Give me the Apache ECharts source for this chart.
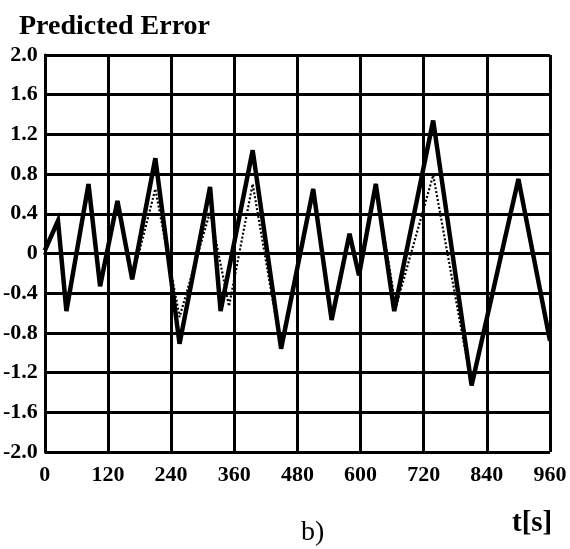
<!DOCTYPE html>
<html>
<head>
<meta charset="utf-8">
<script src="https://cdn.jsdelivr.net/npm/echarts@6/dist/echarts.min.js"></script>
<style>
html,body{margin:0;padding:0;background:#fff;}
#chart{width:570px;height:549px;}
</style>
</head>
<body>
<div id="chart"></div>
<script>
// Time (s) of each vertex
const solidTimes = [0, 25, 41, 83, 105, 138, 166, 210, 256, 314, 334, 395, 449, 510, 545, 579, 597, 629, 664, 738, 811, 900, 960];
const solidValues = [0.03, 0.33, -0.58, 0.70, -0.33, 0.53, -0.26, 0.96, -0.91, 0.67, -0.58, 1.04, -0.96, 0.65, -0.67, 0.20, -0.22, 0.70, -0.58, 1.34, -1.33, 0.75, -0.88];
const dottedTimes = [0, 25, 41, 83, 105, 138, 166, 210, 256, 314, 350, 395, 449, 510, 545, 579, 597, 629, 667, 738, 811, 900, 960];
const dottedValues = [0.03, 0.33, -0.58, 0.70, -0.33, 0.53, -0.26, 0.65, -0.64, 0.42, -0.53, 0.70, -0.96, 0.65, -0.67, 0.20, -0.22, 0.70, -0.54, 0.79, -1.33, 0.75, -0.88];
const yTickValues = [-2.0, -1.6, -1.2, -0.8, -0.4, 0, 0.4, 0.8, 1.2, 1.6, 2.0];
const yTickLabels = ['-2.0', '-1.6', '-1.2', '-0.8', '-0.4', '0', '0.4', '0.8', '1.2', '1.6', '2.0'];
const xTickLabels = ['0', '120', '240', '360', '480', '600', '720', '840', '960'];
const titleText = 'Predicted Error';
const xUnitText = 't[s]';
const panelText = 'b)';

const FONT = "'Liberation Serif', 'Times New Roman', serif";
const chart = echarts.init(document.getElementById('chart'));

function yLabel(v) {
  for (let i = 0; i < yTickValues.length; i++) {
    if (Math.abs(yTickValues[i] - v) < 1e-6) return yTickLabels[i];
  }
  return '';
}

const option = {
  animation: false,
  backgroundColor: '#fff',
  title: {
    text: titleText,
    left: 14,
    top: 8,
    textStyle: { fontFamily: FONT, fontWeight: 'bold', fontSize: 28, color: '#000' }
  },
  grid: { left: 40, right: 20, top: 55, bottom: 97, containLabel: false },
  xAxis: {
    type: 'value',
    min: 0, max: 960, interval: 120,
    axisLine: { show: true, lineStyle: { color: '#000', width: 3 } },
    axisTick: { show: false },
    splitLine: { show: true, lineStyle: { color: '#000', width: 3 } },
    axisLabel: {
      margin: 12,
      fontFamily: FONT, fontWeight: 'bold', fontSize: 22, color: '#000',
      formatter: function (v) { return xTickLabels[Math.round(v / 120)]; }
    }
  },
  yAxis: {
    type: 'value',
    min: -2, max: 2, interval: 0.4,
    axisLine: { show: true, onZero: false, lineStyle: { color: '#000', width: 3 } },
    axisTick: { show: false },
    splitLine: { show: true, lineStyle: { color: '#000', width: 3 } },
    axisLabel: {
      margin: 7,
      fontFamily: FONT, fontWeight: 'bold', fontSize: 22, color: '#000',
      formatter: yLabel
    }
  },
  graphic: [
    { type: 'text', left: 512, top: 509,
      style: { text: xUnitText, font: "bold 29px 'Liberation Serif'", fill: '#000' } },
    { type: 'text', left: 301, top: 519,
      style: { text: panelText, font: "28px 'Liberation Serif'", fill: '#000' } }
  ],
  series: [
    {
      type: 'line', name: 'dotted', z: 2,
      data: dottedTimes.map((t, i) => [t, dottedValues[i]]),
      showSymbol: false, symbol: 'none',
      lineStyle: { color: '#000', width: 2.2, type: [2, 2] }
    },
    {
      type: 'line', name: 'solid', z: 3,
      data: solidTimes.map((t, i) => [t, solidValues[i]]),
      showSymbol: false, symbol: 'none',
      lineStyle: { color: '#000', width: 4.5, join: 'miter', miterLimit: 4 }
    }
  ]
};
chart.setOption(option);
</script>
</body>
</html>
